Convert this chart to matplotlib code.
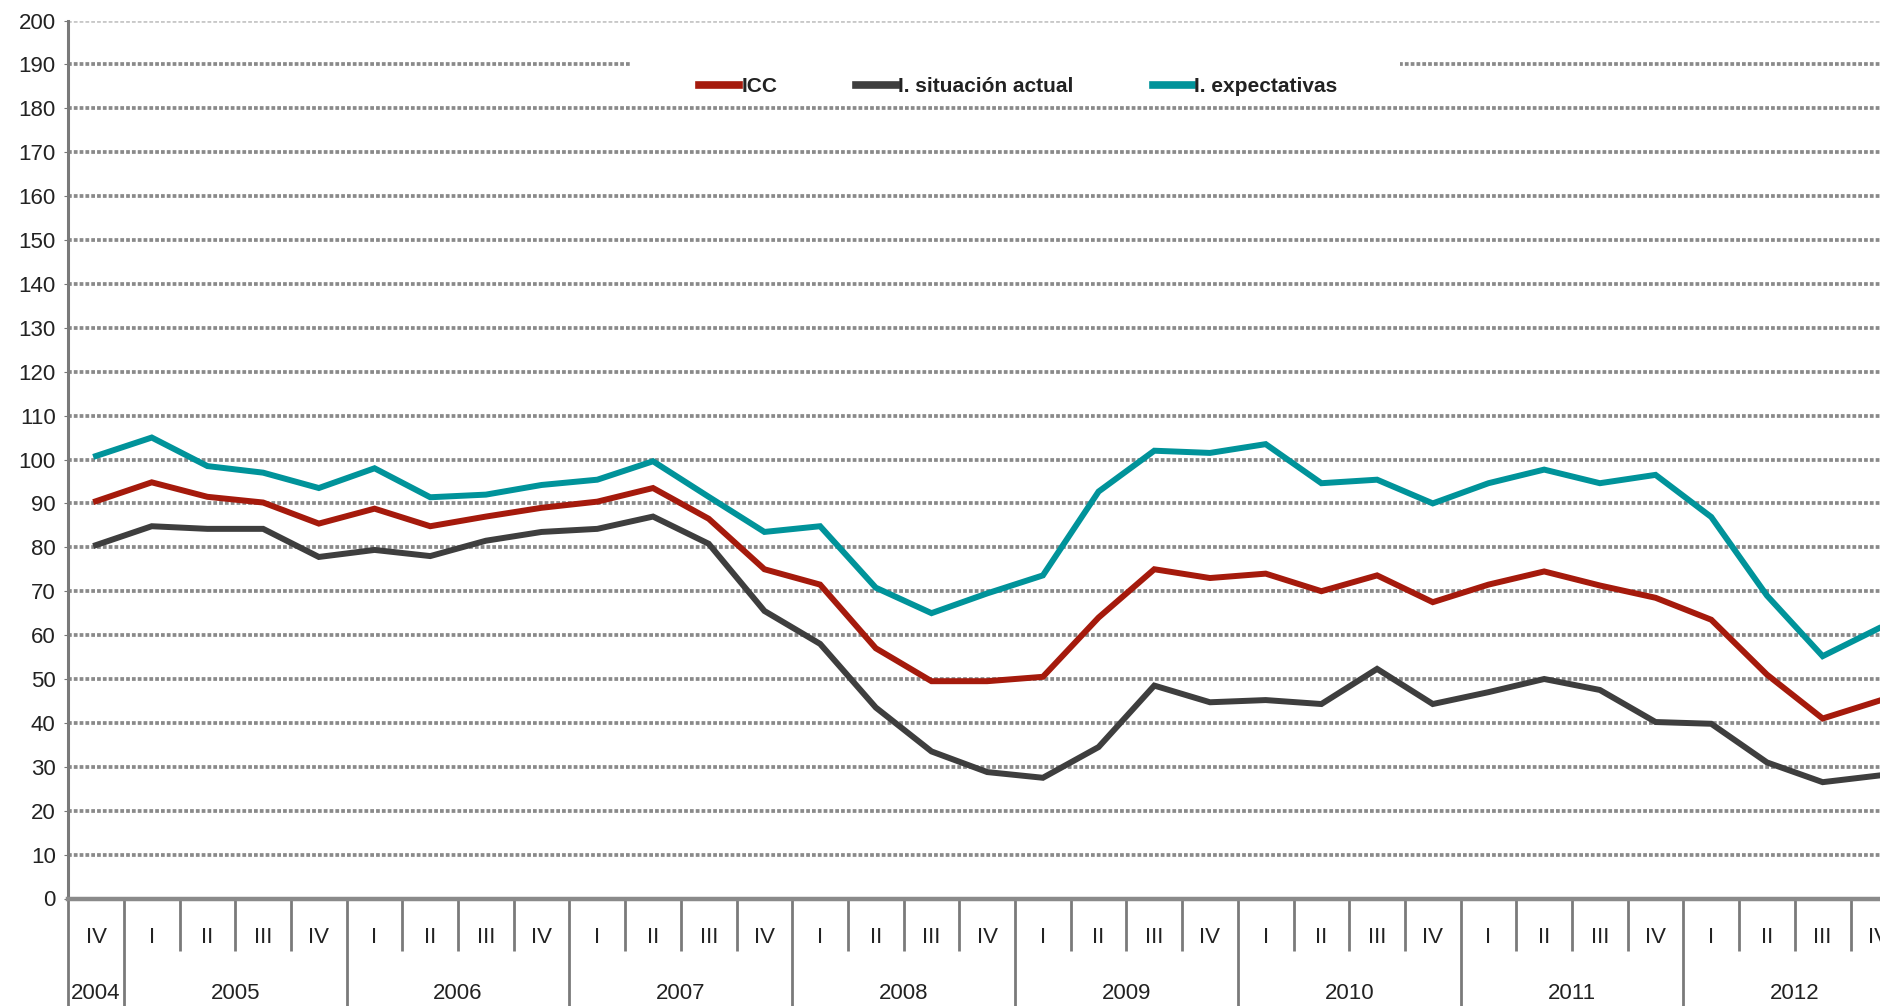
import matplotlib
matplotlib.use("Agg")
import matplotlib.pyplot as plt
import matplotlib.transforms as mtransforms
from matplotlib.patches import Rectangle
import numpy as np

plt.rcParams['font.family'] = ['Liberation Sans Narrow', 'Liberation Sans', 'DejaVu Sans']

# quarters from 2004 IV to 2012 IV
years = ['2004', '2005', '2006', '2007', '2008', '2009', '2010', '2011', '2012']
quarters = ['IV'] + ['I', 'II', 'III', 'IV'] * 8

icc = [90.5, 94.8, 91.5, 90.2, 85.4, 88.8, 84.8, 87.0, 89.0, 90.4,
       93.5, 86.5, 75.0, 71.5, 57.0, 49.5, 49.5, 50.5, 64.0, 75.0,
       73.0, 74.0, 70.0, 73.6, 67.5, 71.5, 74.5, 71.3, 68.5, 63.5,
       51.0, 41.0, 45.0]
situacion = [80.5, 84.8, 84.2, 84.2, 77.8, 79.4, 78.0, 81.5, 83.5, 84.2,
             87.0, 80.8, 65.5, 58.0, 43.5, 33.5, 28.8, 27.5, 34.5, 48.5,
             44.7, 45.2, 44.3, 52.3, 44.3, 47.0, 50.0, 47.5, 40.2, 39.8,
             31.0, 26.5, 28.0]
expectativas = [100.8, 105.0, 98.5, 97.0, 93.5, 98.0, 91.4, 92.0, 94.2, 95.4,
                99.6, 91.5, 83.5, 84.8, 70.8, 65.0, 69.5, 73.6, 92.7, 102.0,
                101.5, 103.5, 94.6, 95.4, 90.0, 94.6, 97.7, 94.6, 96.5, 86.9,
                69.0, 55.2, 61.5]

series_names = ['ICC', 'I. situación actual', 'I. expectativas']
colors = ['#A51A0C', '#3E3E3E', '#00939A']

W, H = 1881, 1006
fig = plt.figure(figsize=(W / 100, H / 100), dpi=100)
# axes runs past the right edge like in the original
ax = fig.add_axes([68.2 / W, 1 - 898.5 / H, 1838 / W, 878 / H])

x = np.arange(len(quarters))
ax.set_xlim(-0.5, len(quarters) - 0.5)
ax.set_ylim(0, 200)

# dotted gridlines
grid_c = '#8a8a8a'
for v in range(10, 201, 10):
    ax.axhline(v, color='#c8c8c8' if v == 200 else grid_c, lw=2.7,
               ls=(0, (1, 0.55)), zorder=0.5, dash_capstyle='butt')

# white box behind the legend
blend = mtransforms.blended_transform_factory(ax.transAxes, ax.transData)
ax.add_patch(Rectangle((0.3057, 185), 0.419, 10, transform=blend,
                       facecolor='white', edgecolor='none', zorder=0.8))

for vals, name, c in zip([icc, situacion, expectativas], series_names, colors):
    ax.plot(x, vals, color=c, lw=4.3, label=name, zorder=3,
            solid_joinstyle='miter')

ax.set_yticks(range(0, 201, 10))
ax.tick_params(axis='y', length=3, color='#777777', labelsize=16, pad=6,
               labelcolor='#222222')
ax.set_xticks([])

for s in ['top', 'right']:
    ax.spines[s].set_visible(False)
ax.spines['left'].set_color('#7a7a7a')
ax.spines['left'].set_linewidth(2.2)
ax.spines['bottom'].set_color('#8a8a8a')
ax.spines['bottom'].set_linewidth(3.2)
ax.spines['bottom'].set_zorder(4)

# category axis: quarters and years
tr = mtransforms.blended_transform_factory(ax.transData, ax.transAxes)
q_drop = -(951 - 898.5) / 878
y_drop = -(1010 - 898.5) / 878
year_start = [0] + [1 + 4 * i for i in range(8)]
year_end = [0] + [4 + 4 * i for i in range(8)]
bounds = set(s - 0.5 for s in year_start) | {len(quarters) - 0.5}
for k in range(len(quarters) + 1):
    b = k - 0.5
    bottom = y_drop if b in bounds else q_drop
    ax.plot([b, b], [0, bottom], transform=tr, color='#7a7a7a', lw=2.0,
            clip_on=False, solid_capstyle='butt')
for k, q in enumerate(quarters):
    ax.text(k, -0.044, q, transform=tr, ha='center', va='center',
            fontsize=16, color='#222222')
for yr, s, e in zip(years, year_start, year_end):
    ax.text((s + e) / 2, -0.108, yr, transform=tr, ha='center', va='center',
            fontsize=16, color='#222222')

leg = ax.legend(loc='center', bbox_to_anchor=(0.517, 0.925), ncol=3,
                frameon=False, handlelength=1.9, handletextpad=0.1,
                columnspacing=3.8, borderpad=0,
                prop={'size': 15, 'weight': 'bold'})
for line in leg.get_lines():
    line.set_linewidth(5.5)
for t in leg.get_texts():
    t.set_color('#222222')

fig.savefig('out.png', dpi=100)
